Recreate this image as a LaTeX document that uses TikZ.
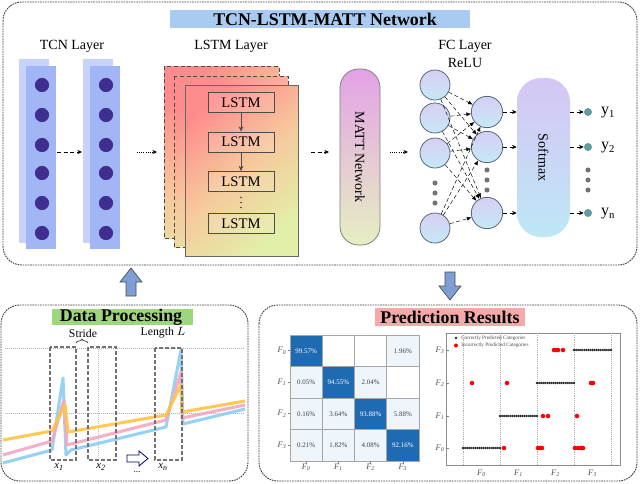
\documentclass[tikz,border=0pt]{standalone}
\usepackage{fontspec}
\setmainfont{Liberation Serif}
\usepackage{graphicx}
\usetikzlibrary{arrows.meta,decorations.pathreplacing,calc}
\definecolor{titleblue}{HTML}{A9CBF2}
\definecolor{dpgreen}{HTML}{9ED67E}
\definecolor{prpink}{HTML}{F6A9A9}
\definecolor{tcnB}{HTML}{C8D3FB}
\definecolor{tcnF}{HTML}{A2B5F4}
\definecolor{tcnD}{HTML}{3F2D8F}
\definecolor{lstmA}{HTML}{FF8C8C}
\definecolor{lstmM}{HTML}{F6C99C}
\definecolor{lstmC}{HTML}{E2EFA8}
\definecolor{mattA}{HTML}{E3A2E6}
\definecolor{mattB}{HTML}{E6EFC2}
\definecolor{smA}{HTML}{D6C6F4}
\definecolor{smB}{HTML}{BDE7F6}
\definecolor{fcA}{HTML}{D7CEF3}
\definecolor{fcB}{HTML}{C5E9F7}
\definecolor{fcE}{HTML}{56687A}
\definecolor{outD}{HTML}{5E9EA0}
\definecolor{sigO}{HTML}{FFC445}
\definecolor{sigP}{HTML}{F4A7C2}
\definecolor{sigB}{HTML}{8DCEF2}
\definecolor{bigarrow}{HTML}{7E9FD3}
\definecolor{cmD}{HTML}{1F6BB2}
\definecolor{cmL}{HTML}{EEF6FB}
\begin{document}
\begin{tikzpicture}[x=0.75pt,y=-0.75pt,
  panel/.style={draw=black!75, dash pattern=on 1.2pt off 0.7pt, line width=0.7pt, rounded corners=14pt},
  lbl/.style={font=\fontsize{10.5}{12}\selectfont, inner sep=0pt},
  ttl/.style={font=\bfseries\fontsize{13.4}{15}\selectfont, inner sep=0pt},
  bar/.style={inner sep=0pt, outer sep=0pt, draw=none},
  tcnfront/.style={fill=tcnF, inner sep=0pt, outer sep=0pt, minimum width=22.5pt, minimum height=137.25pt},
  tcndot/.style={fill=tcnD},
  lstmgrad/.style={top color=lstmA, bottom color=lstmC, middle color=lstmM, shading angle=40},
  lstmbox/.style={draw=black!70, line width=0.6pt, fill=white, fill opacity=0.12, text opacity=1,
     minimum width=49.5pt, minimum height=15pt, inner sep=0pt, font=\fontsize{11}{12}\selectfont},
  dashar/.style={densely dashed, line width=0.5pt, -{Stealth[length=3.5pt,width=3.2pt]}},
  dotar/.style={densely dotted, line width=0.6pt, -{Stealth[length=3.5pt,width=3.2pt]}},
  fcn/.style={circle, draw=fcE, line width=0.6pt, top color=fcA, bottom color=fcB, minimum size=22.5pt, inner sep=0pt},
  fcline/.style={densely dashed, line width=0.35pt, -{Latex[length=3.5pt,width=3pt]}},
  smalldot/.style={fill=black!55},
  outdot/.style={circle, fill=outD, minimum size=6pt, inner sep=0pt},
  win/.style={draw=black!55, dash pattern=on 3pt off 1.5pt, line width=0.8pt},
  sig/.style={line width=2.3pt, line join=round, opacity=0.9},
  cell/.style={draw=black!35, line width=0.4pt, minimum width=24.19pt, minimum height=23.63pt, inner sep=0pt, font=\fontsize{5.2}{6}\selectfont},
  celld/.style={cell, fill=cmD, text=white!90},
  celll/.style={cell, fill=cmL, text=black!75},
  celle/.style={cell, fill=white},
  axl/.style={font=\itshape\fontsize{6.3}{7}\selectfont, inner sep=0pt, text=black!70},
  leg/.style={font=\fontsize{3.9}{4.5}\selectfont, inner sep=0pt, anchor=west, text=black!70}
]
\useasboundingbox (0,0) rectangle (640,483);
\fill[white] (0,0) rectangle (640,483);

% ---------- panels
\draw[panel] (3,2) rectangle (637,265);
\draw[panel] (1,305) rectangle (248,481);
\draw[panel] (259,305) rectangle (637,481);

% ---------- titles
\node[bar, fill=titleblue, minimum width=225pt, minimum height=13.5pt] (netbar) at (320,19) {};
\node[ttl] (nettitle) at (325,19.5) {TCN-LSTM-MATT Network};
\node[bar, fill=dpgreen, minimum width=105.75pt, minimum height=12.5pt] (dpbar) at (122.5,317) {};
\node[ttl] (dptitle) at (121,317.5) {Data Processing};
\node[bar, fill=prpink, minimum width=112.5pt, minimum height=13pt] (prbar) at (450,317) {};
\node[ttl] (prtitle) at (450,317.5) {Prediction Results};

% ---------- layer labels
\node[lbl] (tcnlbl) at (72,46) {TCN Layer};
\node[lbl] (lstmlbl) at (231,46) {LSTM Layer};
\node[lbl] (fclbl) at (465,46) {FC Layer};
\node[lbl] (relulbl) at (465,63) {ReLU};

% ---------- TCN columns
\fill[tcnB] (19,59) rectangle (49,243);
\node[tcnfront] (tcn1) at (41,157.5) {};
\fill[tcnB] (83,59) rectangle (113,243);
\node[tcnfront] (tcn2) at (105,157.5) {};
\foreach \yy in {85,115,145,173,203,233}{
  \fill[tcndot] (42,\yy) circle[radius=5.3pt];
  \fill[tcndot] (106,\yy) circle[radius=5.3pt];
}
\coordinate (a1s) at (57,152); \coordinate (a1e) at (82,152);
\draw[dashar] (a1s) -- (a1e);
\coordinate (a2s) at (137,152); \coordinate (a2e) at (157,152);
\draw[dotar] (a2s) -- (a2e);

% ---------- LSTM stack
\shadedraw[lstmgrad, draw=black!70, densely dashed, line width=0.5pt] (164,66) rectangle (279,238);
\shadedraw[lstmgrad, draw=black!70, densely dashed, line width=0.5pt] (174,76) rectangle (288,247);
\node[lstmgrad, draw=black!60, line width=0.6pt, inner sep=0pt, outer sep=0pt, minimum width=84.75pt, minimum height=128.25pt] (lstmstack) at (241.5,170.5) {};
\node[lstmbox] (l1) at (241,102.5) {LSTM};
\node[lstmbox] (l2) at (241,142) {LSTM};
\node[lstmbox] (l3) at (241,181.5) {LSTM};
\node[lstmbox] (l4) at (241,223.5) {LSTM};
\foreach \yy in {197.5,202.5,207.5}{\fill[black!75] (241,\yy) circle[radius=0.6pt];}
\draw[black!70, line width=0.6pt, -{Stealth[length=4pt,width=3.6pt]}] (l1) -- (l2);
\draw[black!70, line width=0.6pt, -{Stealth[length=4pt,width=3.6pt]}] (l2) -- (l3);
\coordinate (a3s) at (311,152); \coordinate (a3e) at (329,152);
\draw[dashar] (a3s) -- (a3e);

% ---------- MATT
\node[draw=black!50, line width=0.6pt, top color=mattA, bottom color=mattB, rounded corners=14pt,
      minimum width=30pt, minimum height=132pt, inner sep=0pt, font=\fontsize{10.5}{12}\selectfont] (matt) at (360,157) {\rotatebox{-90}{MATT Network}};
\coordinate (a4s) at (390,152); \coordinate (a4e) at (408,152);
\draw[dotar] (a4s) -- (a4e);

% ---------- FC layer
\node[fcn] (i1) at (435,85) {};
\node[fcn] (i2) at (435,118) {};
\node[fcn] (i3) at (435,153) {};
\node[fcn] (i4) at (435,228) {};
\node[fcn, minimum size=23.5pt] (o1) at (487,112) {};
\node[fcn, minimum size=23.5pt] (o2) at (487,147) {};
\node[fcn, minimum size=23.5pt] (o3) at (487,213) {};
\foreach \yy in {183,193,203}{\fill[smalldot] (435,\yy) circle[radius=1.9pt];}
\foreach \yy in {170,180,190}{\fill[smalldot] (487,\yy) circle[radius=1.9pt];}
\foreach \i in {1,2,3,4}{\foreach \j in {1,2,3}{\draw[fcline] (i\i) -- (o\j);}}

% ---------- Softmax
\node[top color=smA, bottom color=smB, rounded corners=18pt, minimum width=39.75pt, minimum height=119.25pt,
      inner sep=0pt, font=\fontsize{10.5}{12}\selectfont] (sm) at (543.5,157.5) {\rotatebox{-90}{Softmax}};
\foreach \j in {1,2,3}{\draw[dashar] (o\j.east) -- (o\j.east -| sm.west);}

% ---------- outputs
\node[outdot] (y1) at (588,112) {};
\node[outdot] (y2) at (588,147) {};
\node[outdot] (yn) at (588,213) {};
\draw[dashar] (sm.east |- y1) -- (y1);
\draw[dashar] (sm.east |- y2) -- (y2);
\draw[dashar] (sm.east |- yn) -- (yn);
\foreach \yy in {170,180,190}{\fill[smalldot] (588,\yy) circle[radius=1.9pt];}
\node[lbl, font=\fontsize{12}{13}\selectfont] (y1l) at (608,113) {y\textsubscript{1}};
\node[lbl, font=\fontsize{12}{13}\selectfont] (y2l) at (608,148) {y\textsubscript{2}};
\node[lbl, font=\fontsize{12}{13}\selectfont] (ynl) at (608,214) {y\textsubscript{n}};

% ---------- big arrows
\filldraw[fill=bigarrow, draw=black!70, line width=0.5pt]
  (131,268) -- (142,282) -- (136,282) -- (136,296) -- (126,296) -- (126,282) -- (120,282) -- cycle;
\filldraw[fill=bigarrow, draw=black!70, line width=0.5pt]
  (450,300) -- (461,286) -- (455,286) -- (455,272) -- (445,272) -- (445,286) -- (439,286) -- cycle;

% ---------- Data processing
\draw[black!30, densely dotted, line width=0.5pt] (5,348) -- (245,348);
\draw[black!30, densely dotted, line width=0.5pt] (5,413) -- (245,413);
\draw[black!25, densely dotted, line width=0.5pt] (98,347) -- (98,460);
\draw[sig, sigB] (3,463) -- (52,450) -- (63,378) -- (66,455) -- (71,450) -- (166,427) -- (181,350) -- (183,424) -- (245,409);
\draw[sig, sigP] (3,455) -- (52,441) -- (64,400) -- (67,445) -- (166,420) -- (181,372) -- (182,418) -- (245,405);
\draw[sig, sigO] (3,440) -- (52,431) -- (65,405) -- (68,432) -- (166,415) -- (181,385) -- (182,412) -- (245,401);
\draw[win] (50,347) rectangle (76,460);
\draw[win] (88,347) rectangle (116,460);
\draw[win] (155,348) rectangle (182,460);
\draw[black!80, line width=0.5pt, decorate, decoration={brace, amplitude=3pt}] (76,343) -- (88,343);
\node[lbl, font=\fontsize{8.8}{10}\selectfont] (stride) at (83,333) {Stride};
\node[lbl, font=\fontsize{8.8}{10}\selectfont] (lengthl) at (163,333) {Length $L$};
\node[axl, font=\itshape\fontsize{8}{9}\selectfont, text=black] (x1l) at (59,467) {x\textsubscript{1}};
\node[axl, font=\itshape\fontsize{8}{9}\selectfont, text=black] (x2l) at (101,467) {x\textsubscript{2}};
\node[axl, font=\itshape\fontsize{8}{9}\selectfont, text=black] (xnl) at (163,467) {x\textsubscript{n}};
\node[lbl, font=\fontsize{7}{8}\selectfont] (dotsl) at (137,472) {...};
\draw[draw=black!60!blue, fill=white, line width=0.6pt]
  (127,455) -- (139,455) -- (139,451) -- (148,458.5) -- (139,466) -- (139,462) -- (127,462) -- cycle;

% ---------- confusion matrix
\foreach \r/\c/\v/\s in {0/0/99.57\%/celld, 0/1//celle, 0/2//celle, 0/3/1.96\%/celll,
                          1/0/0.05\%/celll, 1/1/94.55\%/celld, 1/2/2.04\%/celll, 1/3//celle,
                          2/0/0.16\%/celll, 2/1/3.64\%/celll, 2/2/93.88\%/celld, 2/3/5.88\%/celll,
                          3/0/0.21\%/celll, 3/1/1.82\%/celll, 3/2/4.08\%/celll, 3/3/92.16\%/celld}{
  \node[\s] (cm\r\c) at ({290+(\c+0.5)*32.25},{335+(\r+0.5)*31.5}) {\v};
}
\foreach \k in {0,1,2,3}{
  \node[axl] (cmr\k) at (282,{335+(\k+0.5)*31.5}) {F\textsubscript{\k}};
  \draw[black!50, line width=0.4pt] (287.5,{335+(\k+0.5)*31.5}) -- (290,{335+(\k+0.5)*31.5});
  \node[axl] (cmc\k) at ({290+(\k+0.5)*32.25},467) {F\textsubscript{\k}};
  \draw[black!50, line width=0.4pt] ({290+(\k+0.5)*32.25},461) -- ({290+(\k+0.5)*32.25},463.5);
}

% ---------- scatter plot
\draw[black!45, line width=0.4pt] (446,333) rectangle (620,465);
\foreach \xx in {463,500,537,574,611}{\draw[black!30, densely dotted, line width=0.4pt] (\xx,333) -- (\xx,465);}
\foreach \k/\yy in {0/448,1/416,2/383,3/350}{
  \node[axl] (scr\k) at (440,\yy) {F\textsubscript{\k}};
  \draw[black!50, line width=0.4pt] (446,\yy) -- (448.5,\yy);
}
\foreach \k/\xx in {0/481.5,1/518.5,2/555.5,3/592.5}{
  \node[axl] (scc\k) at (\xx,473) {F\textsubscript{\k}};
}
\foreach \yy/\a in {448/463,416/500,383/537,350/574}{
  \foreach \k in {0,...,18}{\fill[black!85] ({\a+\k*37/18},\yy) circle[radius=0.95pt];}
}
\foreach \xx/\yy in {554/350,556/350,558/350,563/350, 472/383,507/383,591/383,593/383,
                     543/416,548/416,577/416, 504/448,538/448,540/448,542/448,575/448,578/448,581/448,583/448}{
  \fill[red] (\xx,\yy) circle[radius=1.7pt];
}
\fill[black!85] (456,338) circle[radius=0.95pt];
\node[leg] (leg1) at (461,338) {Correctly Predicted Categories};
\fill[red] (456,345.5) circle[radius=1.5pt];
\node[leg] (leg2) at (461,345.5) {Incorrectly Predicted Categories};
\end{tikzpicture}
\end{document}
